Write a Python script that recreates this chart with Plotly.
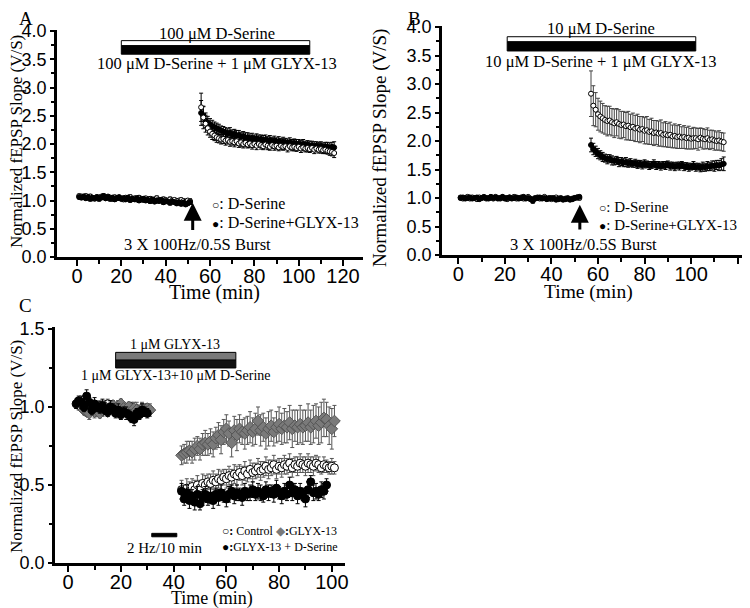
import plotly.graph_objects as go

# ---------------- data ----------------
# Panel A: 100 uM D-Serine vs D-Serine + GLYX-13
a_base_t0, a_post_t0 = 1, 56
a_base_open = [1.08, 1.07, 1.06, 1.08, 1.05, 1.07, 1.04, 1.03, 1.06, 1.05,
               1.07, 1.06, 1.04, 1.07, 1.05, 1.03, 1.06, 1.04, 1.05, 1.03,
               1.02, 1.05, 1.04, 1.06, 1.03, 1.04, 1.02, 1.05, 1.03, 1.01,
               1.04, 1.02, 1.03, 1.01, 1.02, 1.04, 1.01, 1.00, 1.02, 1.01,
               0.99, 1.02, 1.00, 1.01, 0.99, 1.00, 1.01, 0.99, 0.98, 1.00, 0.99]
a_base_fill = [1.06, 1.05, 1.07, 1.04, 1.06, 1.03, 1.05, 1.04, 1.06, 1.03,
               1.05, 1.08, 1.04, 1.06, 1.03, 1.05, 1.02, 1.04, 1.06, 1.03,
               1.04, 1.02, 1.05, 1.01, 1.03, 1.02, 1.04, 1.00, 1.02, 1.03,
               1.00, 1.01, 0.99, 1.02, 0.98, 1.00, 0.99, 1.01, 0.97, 0.99,
               0.98, 0.96, 0.98, 0.97, 0.95, 0.97, 0.94, 0.96, 0.93, 0.95, 0.97]
a_base_err = [0.03, 0.03, 0.04, 0.03, 0.03, 0.04, 0.03, 0.03, 0.03, 0.04,
              0.03, 0.04, 0.03, 0.03, 0.04, 0.03, 0.03, 0.04, 0.03, 0.03,
              0.04, 0.03, 0.03, 0.04, 0.03, 0.03, 0.04, 0.03, 0.03, 0.04,
              0.03, 0.03, 0.04, 0.03, 0.03, 0.04, 0.03, 0.03, 0.04, 0.03,
              0.03, 0.04, 0.03, 0.03, 0.04, 0.03, 0.03, 0.04, 0.03, 0.03, 0.04]
a_post_open = [2.65, 2.47, 2.36, 2.28, 2.22, 2.18, 2.15, 2.12, 2.10, 2.08,
               2.09, 2.06, 2.07, 2.04, 2.05, 2.03, 2.05, 2.01, 2.03, 2.00,
               2.02, 1.99, 2.01, 1.98, 2.00, 1.97, 2.00, 1.98, 1.96, 1.99,
               1.97, 1.95, 1.98, 1.96, 1.97, 1.94, 1.97, 1.95, 1.96, 1.93,
               1.96, 1.94, 1.95, 1.93, 1.95, 1.92, 1.94, 1.92, 1.93, 1.91,
               1.93, 1.90, 1.92, 1.90, 1.91, 1.89, 1.90, 1.88, 1.87, 1.86, 1.84]
a_post_open_err = [0.25, 0.20, 0.15, 0.12, 0.10, 0.10, 0.09, 0.09, 0.08, 0.08,
                   0.08, 0.08, 0.07, 0.08, 0.07, 0.08, 0.07, 0.07, 0.08, 0.07,
                   0.07, 0.06, 0.07, 0.07, 0.06, 0.07, 0.06, 0.07, 0.06, 0.06,
                   0.07, 0.06, 0.06, 0.07, 0.06, 0.06, 0.07, 0.06, 0.06, 0.07,
                   0.06, 0.06, 0.07, 0.06, 0.06, 0.07, 0.06, 0.06, 0.07, 0.06,
                   0.06, 0.07, 0.06, 0.06, 0.07, 0.06, 0.07, 0.06, 0.07, 0.07, 0.08]
a_post_fill = [2.55, 2.50, 2.42, 2.38, 2.35, 2.32, 2.30, 2.28, 2.26, 2.24,
               2.22, 2.21, 2.19, 2.20, 2.17, 2.18, 2.15, 2.16, 2.13, 2.14,
               2.11, 2.12, 2.10, 2.11, 2.09, 2.10, 2.08, 2.09, 2.07, 2.08,
               2.06, 2.07, 2.05, 2.06, 2.04, 2.05, 2.03, 2.04, 2.03, 2.02,
               2.03, 2.01, 2.02, 2.00, 2.01, 1.99, 2.00, 1.98, 1.99, 1.97,
               1.98, 1.96, 1.97, 1.95, 1.97, 1.94, 1.96, 1.95, 1.93, 1.95, 1.94]
a_post_fill_err = [0.22, 0.16, 0.13, 0.11, 0.10, 0.10, 0.09, 0.09, 0.09, 0.08,
                   0.09, 0.08, 0.08, 0.09, 0.08, 0.08, 0.09, 0.08, 0.08, 0.08,
                   0.09, 0.08, 0.08, 0.08, 0.07, 0.08, 0.08, 0.07, 0.08, 0.08,
                   0.07, 0.08, 0.07, 0.08, 0.07, 0.08, 0.07, 0.08, 0.07, 0.07,
                   0.08, 0.07, 0.07, 0.08, 0.07, 0.07, 0.08, 0.07, 0.07, 0.08,
                   0.07, 0.08, 0.07, 0.08, 0.07, 0.08, 0.07, 0.08, 0.09, 0.08, 0.10]

# Panel B: 10 uM D-Serine vs D-Serine + GLYX-13
b_base_t0, b_post_t0 = 1, 57
b_base_open = [1.01, 0.99, 1.00, 1.02, 0.99, 1.01, 1.00, 0.98, 1.01, 1.00,
               1.02, 0.99, 1.00, 1.01, 0.99, 1.02, 1.00, 0.99, 1.01, 1.00,
               0.98, 1.01, 1.00, 1.02, 0.99, 1.00, 1.01, 0.99, 1.00, 1.02,
               0.99, 0.97, 1.00, 1.01, 0.99, 1.00, 1.02, 0.99, 1.00, 0.98,
               1.00, 1.01, 0.99, 1.00, 0.98, 0.99, 1.00, 0.98, 0.99, 1.00, 1.01, 1.00]
b_base_fill = [1.00, 1.01, 0.99, 1.00, 1.01, 0.99, 1.00, 1.01, 0.98, 1.00,
               1.01, 1.00, 0.99, 1.02, 1.00, 1.01, 0.99, 1.00, 1.02, 0.99,
               1.00, 1.01, 0.99, 1.00, 1.01, 0.99, 1.00, 1.02, 0.99, 1.00,
               0.98, 0.95, 0.99, 1.00, 1.01, 0.99, 1.00, 0.98, 0.99, 1.00,
               0.99, 0.97, 0.98, 0.99, 0.97, 0.98, 0.99, 0.97, 0.98, 1.00, 1.01, 1.02]
b_base_err = [0.03, 0.02, 0.03, 0.03, 0.02, 0.03, 0.02, 0.03, 0.03, 0.02,
              0.03, 0.02, 0.03, 0.03, 0.02, 0.03, 0.02, 0.03, 0.03, 0.02,
              0.03, 0.02, 0.03, 0.03, 0.02, 0.03, 0.02, 0.03, 0.03, 0.02,
              0.03, 0.04, 0.03, 0.03, 0.02, 0.03, 0.02, 0.03, 0.03, 0.02,
              0.03, 0.02, 0.03, 0.03, 0.02, 0.03, 0.02, 0.03, 0.03, 0.02, 0.03, 0.03]
b_post_open = [2.83, 2.62, 2.55, 2.47, 2.43, 2.40, 2.37, 2.35, 2.36, 2.33,
               2.31, 2.33, 2.30, 2.28, 2.29, 2.26, 2.27, 2.24, 2.25, 2.22,
               2.23, 2.20, 2.21, 2.18, 2.19, 2.16, 2.17, 2.14, 2.15, 2.13,
               2.14, 2.11, 2.12, 2.10, 2.11, 2.08, 2.09, 2.07, 2.08, 2.06,
               2.07, 2.05, 2.06, 2.04, 2.05, 2.05, 2.03, 2.06, 2.04, 2.03,
               2.05, 2.02, 2.03, 2.01, 2.00, 2.01, 1.99, 1.98]
b_post_open_err = [0.40, 0.35, 0.30, 0.28, 0.27, 0.26, 0.25, 0.26, 0.25, 0.24,
                   0.25, 0.24, 0.25, 0.24, 0.23, 0.24, 0.25, 0.23, 0.24, 0.23,
                   0.24, 0.23, 0.22, 0.23, 0.24, 0.22, 0.23, 0.22, 0.21, 0.22,
                   0.23, 0.21, 0.22, 0.21, 0.22, 0.20, 0.21, 0.20, 0.21, 0.19,
                   0.20, 0.19, 0.20, 0.18, 0.19, 0.18, 0.19, 0.17, 0.18, 0.17,
                   0.18, 0.17, 0.16, 0.17, 0.16, 0.17, 0.16, 0.16]
b_post_fill = [1.93, 1.86, 1.82, 1.78, 1.75, 1.72, 1.70, 1.68, 1.69, 1.66,
               1.65, 1.66, 1.63, 1.64, 1.62, 1.63, 1.61, 1.62, 1.60, 1.61,
               1.59, 1.60, 1.58, 1.60, 1.59, 1.57, 1.58, 1.60, 1.57, 1.58,
               1.56, 1.58, 1.57, 1.59, 1.56, 1.57, 1.55, 1.57, 1.56, 1.58,
               1.55, 1.56, 1.54, 1.55, 1.57, 1.54, 1.55, 1.53, 1.55, 1.54,
               1.56, 1.55, 1.57, 1.56, 1.58, 1.57, 1.59, 1.60]
b_post_fill_err = [0.12, 0.10, 0.09, 0.09, 0.08, 0.08, 0.07, 0.08, 0.07, 0.08,
                   0.07, 0.07, 0.08, 0.07, 0.07, 0.08, 0.07, 0.07, 0.06, 0.07,
                   0.07, 0.06, 0.07, 0.07, 0.06, 0.07, 0.06, 0.07, 0.07, 0.06,
                   0.07, 0.06, 0.07, 0.06, 0.07, 0.06, 0.07, 0.06, 0.07, 0.06,
                   0.07, 0.06, 0.07, 0.06, 0.07, 0.07, 0.06, 0.07, 0.08, 0.07,
                   0.08, 0.07, 0.08, 0.09, 0.08, 0.09, 0.10, 0.12]

# Panel C: control, GLYX-13, GLYX-13 + D-Serine (LTD)
c_open_base_t0, c_dia_base_t0, c_fill_base_t0, c_post_t0 = 4, 6, 3, 43
c_base_open = [1.01, 1.02, 1.00, 1.03, 0.99, 1.01, 1.00, 0.98, 1.01, 0.99,
               1.00, 1.02, 0.99, 1.00, 0.98, 1.01, 0.99, 1.00, 0.98, 0.99,
               1.00, 0.98, 0.99, 0.97, 0.99, 0.98, 0.99, 0.98]
c_base_dia = [0.98, 0.97, 0.96, 0.98, 0.97, 0.99, 0.96, 0.98, 1.00, 0.97,
              0.99, 1.01, 0.98, 1.00, 1.02, 0.99, 0.98, 1.00, 0.97, 0.99,
              0.98, 0.97, 0.99, 0.98, 0.99, 0.98]
c_base_fill = [1.02, 1.04, 1.03, 1.00, 1.07, 1.03, 0.98, 1.02, 1.00, 0.99,
               1.01, 0.98, 0.97, 1.00, 0.99, 0.96, 0.98, 0.95, 0.97, 0.96,
               0.95, 0.93, 0.92, 0.96, 0.95, 0.98, 0.97, 0.96]
c_base_err = [0.03, 0.03, 0.04, 0.03, 0.04, 0.03, 0.03, 0.04, 0.03, 0.03,
              0.04, 0.03, 0.03, 0.04, 0.03, 0.03, 0.04, 0.03, 0.03, 0.04,
              0.03, 0.03, 0.04, 0.03, 0.03, 0.04, 0.03, 0.03]
c_post_dia = [0.69, 0.70, 0.71, 0.72, 0.71, 0.73, 0.75, 0.73, 0.76, 0.77,
              0.76, 0.78, 0.76, 0.80, 0.82, 0.79, 0.84, 0.86, 0.83, 0.77,
              0.85, 0.82, 0.86, 0.84, 0.83, 0.85, 0.87, 0.84, 0.86, 0.91,
              0.85, 0.87, 0.83, 0.86, 0.88, 0.84, 0.87, 0.89, 0.86, 0.88,
              0.87, 0.90, 0.86, 0.88, 0.87, 0.89, 0.87, 0.88, 0.90, 0.87,
              0.89, 0.91, 0.88, 0.90, 0.93, 0.92, 0.88, 0.86, 0.91]
c_post_dia_err = [0.06, 0.06, 0.07, 0.06, 0.07, 0.07, 0.06, 0.07, 0.07, 0.08,
                  0.07, 0.08, 0.08, 0.07, 0.08, 0.09, 0.08, 0.09, 0.08, 0.09,
                  0.09, 0.10, 0.09, 0.08, 0.10, 0.09, 0.10, 0.09, 0.10, 0.09,
                  0.10, 0.09, 0.10, 0.11, 0.10, 0.09, 0.10, 0.11, 0.10, 0.11,
                  0.10, 0.11, 0.12, 0.10, 0.11, 0.12, 0.11, 0.10, 0.12, 0.11,
                  0.12, 0.11, 0.12, 0.13, 0.12, 0.11, 0.12, 0.13, 0.10]
c_post_open = [0.47, 0.45, 0.48, 0.46, 0.49, 0.47, 0.50, 0.48, 0.51, 0.50,
               0.52, 0.51, 0.53, 0.52, 0.54, 0.53, 0.55, 0.54, 0.56, 0.55,
               0.57, 0.56, 0.58, 0.56, 0.59, 0.57, 0.60, 0.58, 0.59, 0.61,
               0.59, 0.60, 0.62, 0.60, 0.61, 0.63, 0.60, 0.62, 0.61, 0.63,
               0.62, 0.64, 0.61, 0.63, 0.62, 0.64, 0.63, 0.62, 0.64, 0.63,
               0.62, 0.64, 0.63, 0.61, 0.63, 0.62, 0.61, 0.62, 0.61]
c_post_open_err = [0.06, 0.05, 0.06, 0.06, 0.05, 0.06, 0.06, 0.05, 0.06, 0.06,
                   0.05, 0.06, 0.06, 0.05, 0.06, 0.06, 0.05, 0.06, 0.06, 0.05,
                   0.06, 0.06, 0.05, 0.06, 0.06, 0.05, 0.06, 0.06, 0.05, 0.06,
                   0.06, 0.05, 0.06, 0.06, 0.05, 0.06, 0.06, 0.05, 0.06, 0.06,
                   0.05, 0.06, 0.06, 0.05, 0.06, 0.06, 0.05, 0.06, 0.06, 0.05,
                   0.06, 0.05, 0.05, 0.04, 0.05, 0.04, 0.04, 0.05, 0.04]
c_post_fill = [0.46, 0.41, 0.45, 0.40, 0.43, 0.39, 0.44, 0.38, 0.42, 0.44,
               0.41, 0.43, 0.40, 0.44, 0.42, 0.45, 0.43, 0.41, 0.44, 0.46,
               0.43, 0.45, 0.44, 0.42, 0.46, 0.44, 0.45, 0.47, 0.44, 0.46,
               0.45, 0.43, 0.47, 0.45, 0.46, 0.44, 0.48, 0.45, 0.43, 0.46,
               0.44, 0.50, 0.45, 0.47, 0.43, 0.46, 0.44, 0.41, 0.47, 0.52,
               0.45, 0.46, 0.44, 0.47, 0.46, 0.50]
c_post_fill_err = [0.05, 0.04, 0.05, 0.05, 0.04, 0.05, 0.05, 0.04, 0.05, 0.05,
                   0.04, 0.05, 0.05, 0.04, 0.05, 0.05, 0.04, 0.05, 0.05, 0.04,
                   0.05, 0.05, 0.04, 0.05, 0.05, 0.04, 0.05, 0.05, 0.04, 0.05,
                   0.05, 0.04, 0.05, 0.05, 0.04, 0.05, 0.05, 0.04, 0.05, 0.05,
                   0.04, 0.05, 0.05, 0.04, 0.05, 0.05, 0.04, 0.05, 0.05, 0.04,
                   0.05, 0.05, 0.04, 0.05, 0.05, 0.04]

SERIF = "Liberation Serif"
SANS = "Liberation Sans"

# page body has an 8px margin, so the figure is a bit smaller than the window
OFF, W, H = 8, 742, 600


def fx(px):
    return (px - OFF) / W


def fy(py):
    return 1 - (py - OFF) / H


def times(t0, vals):
    return list(range(t0, t0 + len(vals)))


def series(t0, vals, err, ax, kind, size=5, errcolor="black"):
    if kind == "open":
        mk = dict(symbol="circle", size=size, color="white", line=dict(color="black", width=1))
    elif kind == "fill":
        mk = dict(symbol="circle", size=size, color="black", line=dict(color="black", width=1))
    else:
        mk = dict(symbol="diamond", size=size + 1, color="#7a7a7a", line=dict(color="#555555", width=1))
    return go.Scatter(x=times(t0, vals), y=vals, mode="markers", marker=mk,
                      error_y=dict(type="data", array=err, color=errcolor, thickness=1, width=2),
                      xaxis="x" + ax, yaxis="y" + ax, showlegend=False)


fig = go.Figure()
# panel A
fig.add_trace(series(a_base_t0, a_base_open, a_base_err, "", "open"))
fig.add_trace(series(a_base_t0, a_base_fill, a_base_err, "", "fill"))
fig.add_trace(series(a_post_t0, a_post_fill, a_post_fill_err, "", "fill"))
fig.add_trace(series(a_post_t0, a_post_open, a_post_open_err, "", "open"))
# panel B
fig.add_trace(series(b_base_t0, b_base_open, b_base_err, "2", "open"))
fig.add_trace(series(b_base_t0, b_base_fill, b_base_err, "2", "fill"))
fig.add_trace(series(b_post_t0, b_post_open, b_post_open_err, "2", "open", errcolor="#444444"))
fig.add_trace(series(b_post_t0, b_post_fill, b_post_fill_err, "2", "fill"))
# panel C
fig.add_trace(series(c_open_base_t0, c_base_open, c_base_err, "3", "open", size=8, errcolor="#555555"))
fig.add_trace(series(c_dia_base_t0, c_base_dia, c_base_err[:len(c_base_dia)], "3", "dia", size=8, errcolor="#555555"))
fig.add_trace(series(c_fill_base_t0, c_base_fill, c_base_err, "3", "fill", size=8))
fig.add_trace(series(c_post_t0, c_post_open, c_post_open_err, "3", "open", size=8, errcolor="#555555"))
fig.add_trace(series(c_post_t0, c_post_dia, c_post_dia_err, "3", "dia", size=8, errcolor="#555555"))
fig.add_trace(series(c_post_t0, c_post_fill, c_post_fill_err, "3", "fill", size=8))


def xax(px0, px1, rng, anchor):
    return dict(domain=[fx(px0), fx(px1)], range=rng, anchor=anchor, automargin=False, showline=True,
                linecolor="black", linewidth=2.5, ticklabelstandoff=-7,
                ticks="outside", ticklen=6, tickwidth=2, tickcolor="black", dtick=20, tick0=0,
                minor=dict(ticks="outside", ticklen=4, tickwidth=1.5, tickcolor="black", dtick=10),
                showgrid=False, zeroline=False, tickfont=dict(family=SANS, size=20, color="black"))


def yax(py_bottom, py_top, rng, anchor):
    return dict(domain=[fy(py_bottom), fy(py_top)], range=rng, anchor=anchor, automargin=False, showline=True,
                linecolor="black", linewidth=2.5,
                ticks="outside", ticklen=4, tickwidth=2, tickcolor="black", dtick=0.5, tick0=0,
                tickformat=".1f",
                minor=dict(ticks="outside", ticklen=3, tickwidth=1.5, tickcolor="black", dtick=0.25),
                showgrid=False, zeroline=False, tickfont=dict(family=SANS, size=18, color="black"))


def ann(text, x, y, ref="", size=16.5, xanchor="center", font=SERIF, color="black"):
    return dict(text=text, x=x, y=y, xref="x" + ref, yref="y" + ref, showarrow=False,
                xanchor=xanchor, yanchor="middle", font=dict(family=font, size=size, color=color))


def paper(text, px, py, size, angle=0):
    return dict(text=text, x=fx(px), y=fy(py), xref="paper", yref="paper", showarrow=False, textangle=angle,
                xanchor="center", yanchor="middle", font=dict(family=SERIF, size=size, color="black"))


def arrow(x, y0, y1, ref=""):
    return dict(x=x, y=y1, ax=x, ay=y0, xref="x" + ref, yref="y" + ref, axref="x" + ref, ayref="y" + ref,
                showarrow=True, arrowhead=2, arrowsize=1.2, arrowwidth=3, arrowcolor="black", text="")


def bar(x0, x1, y0, y1, ref="", fill="black"):
    return dict(type="rect", x0=x0, x1=x1, y0=y0, y1=y1, xref="x" + ref, yref="y" + ref,
                fillcolor=fill, line=dict(color="black", width=1))


def dot(sym, color="black"):
    return "<span style='font-size:12px;color:%s'>%s</span>" % (color, sym)


ytitle = "Normalized fEPSP Slope (V/S)"
fig.update_layout(
    template="none",
    width=W, height=H, margin=dict(l=0, r=0, t=0, b=0),
    plot_bgcolor="white", paper_bgcolor="white",
    xaxis=xax(57, 363, [-9, 129], "y"),
    yaxis=yax(257, 29.9, [0, 4.02], "x"),
    xaxis2=xax(442, 747, [-7, 124], "y2"),
    yaxis2=yax(255, 25.9, [0, 4.02], "x2"),
    xaxis3=xax(55, 345, [-5, 105], "y3"),
    yaxis3=yax(563, 327.4, [0, 1.51], "x3"),
    shapes=[
        bar(20, 105, 3.74, 3.83, "", "white"), bar(20, 105, 3.59, 3.74, ""),
        bar(21, 102, 3.74, 3.83, "2", "white"), bar(21, 102, 3.58, 3.74, "2"),
        bar(18, 63.6, 1.30, 1.35, "3", "#7a7a7a"), bar(18, 63.6, 1.25, 1.30, "3", "#111111"),
        bar(31.7, 41.2, 0.168, 0.19, "3"),
    ],
    annotations=[
        paper("A", 26, 18, 19), paper("B", 414, 18, 19), paper("C", 25, 305, 19),
        paper(ytitle, 16, 142, 17, -90),
        paper(ytitle, 380, 148, 19, -90),
        paper(ytitle, 16, 447, 17, -90),
        paper("Time (min)", 215, 292, 20),
        paper("Time (min)", 588, 292, 19.5),
        paper("Time (min)", 212, 598, 18),
        # panel A
        ann("100 μM D-Serine", 63, 3.96), ann("100 μM D-Serine + 1 μM GLYX-13", 63, 3.43),
        ann(dot("○") + ": D-Serine", 60, 0.95, xanchor="left", size=16),
        ann(dot("●") + ": D-Serine+GLYX-13", 60, 0.61, xanchor="left", size=16),
        ann("3 X 100Hz/0.5S Burst", 54.3, 0.23), arrow(52.2, 0.45, 0.96),
        # panel B
        ann("10 μM D-Serine", 61.4, 3.98, "2"), ann("10 μM D-Serine + 1 μM GLYX-13", 61.4, 3.40, "2"),
        ann(dot("○") + ": D-Serine", 59.5, 0.85, "2", xanchor="left", size=15),
        ann(dot("●") + ": D-Serine+GLYX-13", 59.5, 0.53, "2", xanchor="left", size=15),
        ann("3 X 100Hz/0.5S Burst", 53.8, 0.18, "2"), arrow(52.2, 0.42, 0.88, "2"),
        # panel C
        ann("1 μM GLYX-13", 40.5, 1.40, "3", size=14), ann("1 μM GLYX-13+10 μM D-Serine", 40.8, 1.20, "3", size=14),
        ann("2 Hz/10 min", 36.7, 0.096, "3", size=15),
        ann(dot("○") + "<b>:</b> Control " + dot("◆", "#7a7a7a") + "<b>:</b>GLYX-13", 57.6, 0.207, "3",
            size=12, xanchor="left"),
        ann(dot("●") + "<b>:</b>GLYX-13 + D-Serine", 57.6, 0.10, "3", size=12, xanchor="left"),
    ],
)

fig.write_html("out.html")
